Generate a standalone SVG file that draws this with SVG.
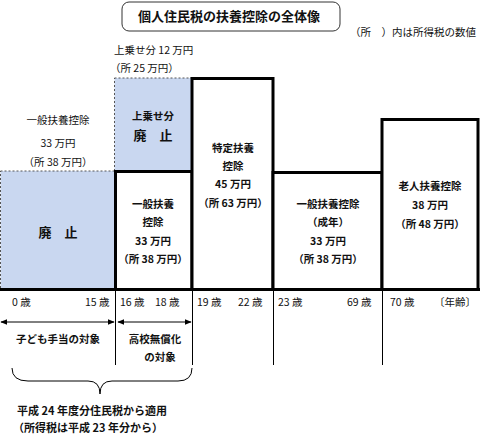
<svg xmlns="http://www.w3.org/2000/svg" width="480" height="438" viewBox="0 0 480 438">
<style>
text{font-family:"Noto Sans CJK JP","Liberation Sans",sans-serif;font-size:10.5px;fill:#111;text-anchor:middle}
.b{font-weight:bold}
.l{text-anchor:start}
.blue{fill:#c9d7f0;stroke:#555;stroke-width:1;stroke-dasharray:2 2}
.box{fill:#fff;stroke:#000;stroke-width:3}
.thin{stroke:#000;stroke-width:1;fill:none}
</style>
<defs>
<marker id="ah" viewBox="0 0 10 10" refX="9" refY="5" markerWidth="7" markerHeight="7" orient="auto-start-reverse" markerUnits="userSpaceOnUse">
<path d="M0,1 L10,5 L0,9 z" fill="#000"/>
</marker>
</defs>
<g id="title">
<rect x="122" y="2" width="218" height="29" rx="7" fill="#fff" stroke="#333" stroke-width="1"/>
<text x="229" y="21" class="b" style="font-size:13px">個人住民税の扶養控除の全体像</text>
</g>
<text x="350" y="36" class="l">（所　）内は所得税の数値</text>
<text x="114" y="54" class="l">上乗せ分 12 万円</text>
<text x="110" y="72" class="l">（所 25 万円）</text>

<g id="n-abolished-child">
<rect x="0.5" y="171" width="114.5" height="118" class="blue"/>
<text x="58" y="124">一般扶養控除</text>
<text x="58" y="147">33 万円</text>
<text x="58" y="166">（所 38 万円）</text>
<text x="58" y="237" class="b" style="font-size:13px">廃　止</text>
</g>
<g id="n-abolished-extra">
<rect x="114.5" y="78" width="77.5" height="93" class="blue"/>
<text x="153" y="120" class="b">上乗せ分</text>
<text x="153" y="140" class="b" style="font-size:13px">廃　止</text>
</g>
<g id="n-general-16">
<rect x="115.5" y="171.5" width="76.5" height="118" class="box"/>
<text x="153" y="208" class="b">一般扶養</text>
<text x="153" y="226" class="b">控除</text>
<text x="153" y="245" class="b">33 万円</text>
<text x="153" y="263" class="b">（所 38 万円）</text>
</g>
<g id="n-specific">
<rect x="192" y="78.5" width="81" height="211" class="box"/>
<text x="233" y="152" class="b">特定扶養</text>
<text x="233" y="170" class="b">控除</text>
<text x="233" y="188" class="b">45 万円</text>
<text x="233" y="207" class="b">（所 63 万円）</text>
</g>
<g id="n-general-adult">
<rect x="273" y="172.5" width="109" height="117" class="box"/>
<text x="328" y="208" class="b">一般扶養控除</text>
<text x="328" y="226" class="b">（成年）</text>
<text x="328" y="245" class="b">33 万円</text>
<text x="328" y="263" class="b">（所 38 万円）</text>
</g>
<g id="n-elderly">
<rect x="382" y="119.5" width="96" height="170" class="box"/>
<text x="430" y="190" class="b">老人扶養控除</text>
<text x="430" y="209" class="b">38 万円</text>
<text x="430" y="228" class="b">（所 48 万円）</text>
</g>

<g id="connectors">
<line x1="0" y1="289.5" x2="480" y2="289.5" stroke="#000" stroke-width="3"/>
<line x1="115.5" y1="290" x2="115.5" y2="365" class="thin"/>
<line x1="192.5" y1="290" x2="192.5" y2="365" class="thin"/>
<line x1="273.5" y1="290" x2="273.5" y2="365" class="thin"/>
<line x1="382.5" y1="290" x2="382.5" y2="365" class="thin"/>
<line x1="1" y1="322" x2="114" y2="322" class="thin" marker-start="url(#ah)" marker-end="url(#ah)"/>
<line x1="118" y1="322" x2="191" y2="322" class="thin" marker-start="url(#ah)" marker-end="url(#ah)"/>
<path d="M12,368 Q12,381 28,381 L88,381 Q100,381 100,394 Q100,381 112,381 L178,381 Q192,381 192,368" class="thin" stroke="#444"/>
</g>

<g id="ages">
<text x="12" y="306" class="l">0 歳</text>
<text x="85" y="306" class="l">15 歳</text>
<text x="120" y="306" class="l">16 歳　18 歳</text>
<text x="197" y="306" class="l">19 歳</text>
<text x="238" y="306" class="l">22 歳</text>
<text x="278" y="306" class="l">23 歳</text>
<text x="347" y="306" class="l">69 歳</text>
<text x="390" y="306" class="l">70 歳</text>
<text x="434" y="306" class="l">〔年齢〕</text>
</g>
<g id="labels">
<text x="58" y="343" class="b">子ども手当の対象</text>
<text x="155" y="343" class="b">高校無償化</text>
<text x="160" y="361" class="b">の対象</text>
<text x="17" y="415" class="l b" style="font-size:11px">平成 24 年度分住民税から適用</text>
<text x="13" y="432" class="l b" style="font-size:11px">（所得税は平成 23 年分から）</text>
</g>
</svg>
